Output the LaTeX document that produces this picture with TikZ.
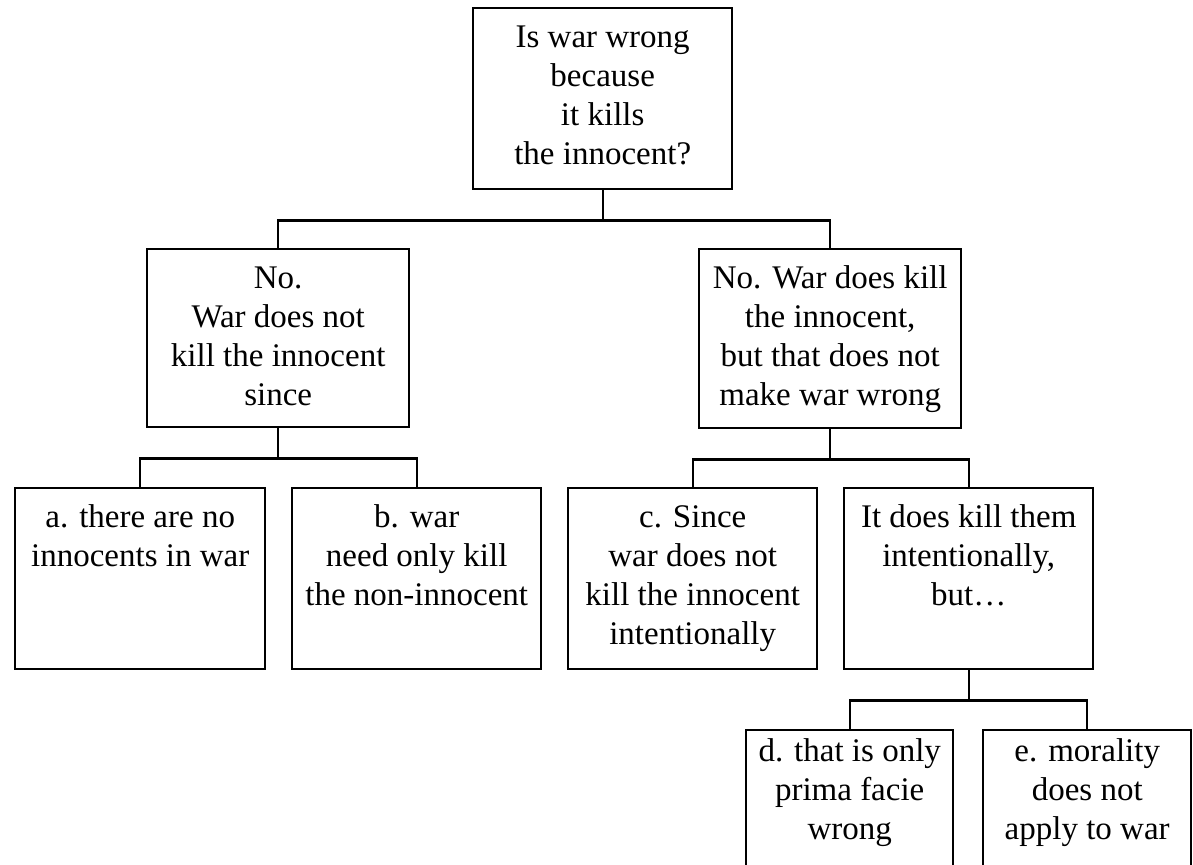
\documentclass[tikz,border=0pt]{standalone}
\usepackage{fontspec}
\setmainfont{Liberation Serif}
\usepackage{tikz}

\tikzset{
  box/.style={draw, line width=1.2pt, inner sep=0pt, anchor=north west},
  link/.style={line width=1.2pt}
}
% box text: width, height, lines; optional first-line drop
\newcommand{\boxtxt}[4][19.5pt]{\parbox[t][#3][t]{#2}{\centering\rule{0pt}{#1}#4}}

\begin{document}
\begin{tikzpicture}[x=0.5pt,y=-0.5pt,font=\fontsize{16.5}{19.5}\selectfont]
  \useasboundingbox (0,0) rectangle (1193,865);
  \clip (0,0) rectangle (1193,865);
  % question
  \node[box] (q) at (472,7) {\boxtxt{129.5pt}{90.5pt}{Is war wrong\\because\\it kills\\the innocent?}};
  % first answers
  \node[box] (n1) at (146,248) {\boxtxt{131pt}{89pt}{No.\\War does not\\kill the innocent\\since}};
  \node[box] (n2) at (698,248) {\boxtxt{131pt}{89.5pt}{No. War does kill\\the innocent,\\but that does not\\make war wrong}};
  % reasons
  \node[box] (a) at (14,487) {\boxtxt{125pt}{90.5pt}{a. there are no\\innocents in war}};
  \node[box] (b) at (291,487) {\boxtxt{124.5pt}{90.5pt}{b. war\\need only kill\\the non-innocent}};
  \node[box] (c) at (567,487) {\boxtxt{124.5pt}{90.5pt}{c. Since\\war does not\\kill the innocent\\intentionally}};
  \node[box] (f) at (843,487) {\boxtxt{124.5pt}{90.5pt}{It does kill them\\intentionally,\\but…}};
  \node[box] (d) at (745,729) {\boxtxt[15.5pt]{103.5pt}{100pt}{d. that is only\\prima facie\\wrong}};
  \node[box] (e) at (982,729) {\boxtxt[15.5pt]{104pt}{100pt}{e. morality\\does not\\apply to war}};
  % tree lines
  \foreach \p/\c in {q/n1,q/n2,n1/a,n1/b,n2/c,n2/f,f/d,f/e}
    \draw[link] (\p.south) -- ++(0,-15pt) -| (\c.north);
\end{tikzpicture}
\end{document}
